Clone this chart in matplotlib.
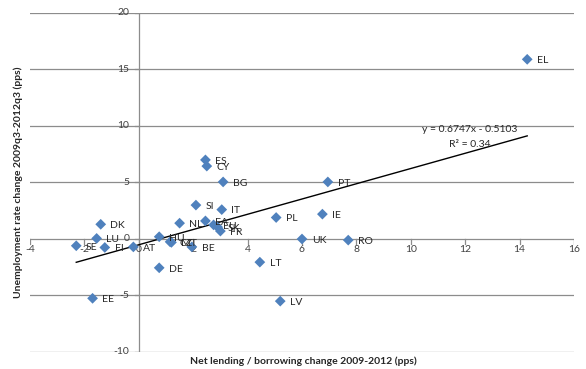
import matplotlib
matplotlib.use("Agg")
import matplotlib.pyplot as plt
import numpy as np

countries = ["EL", "ES", "CY", "BG", "PT", "SI", "IT", "NL", "EA", "EU", "SK", "FR",
             "PL", "IE", "UK", "RO", "LT", "LV", "DE", "BE", "CZ", "MT", "HU",
             "AT", "FI", "SE", "LU", "DK", "EE"]
net_lending = [14.28, 2.45, 2.5, 3.1, 6.95, 2.1, 3.05, 1.5, 2.45, 2.75, 2.9, 3.0,
               5.05, 6.75, 6.0, 7.7, 4.45, 5.2, 0.75, 1.95, 1.15, 1.2, 0.75,
               -0.2, -1.25, -2.3, -1.55, -1.4, -1.7]
unemployment = [15.9, 7.0, 6.45, 5.05, 5.05, 3.0, 2.6, 1.4, 1.6, 1.25, 1.05, 0.7,
                1.9, 2.2, 0.0, -0.1, -2.05, -5.5, -2.55, -0.7, -0.25, -0.3, 0.2,
                -0.7, -0.75, -0.6, 0.05, 1.3, -5.25]
slope, intercept = 0.6747, -0.5103
x_ticks = [-4, -2, 0, 2, 4, 6, 8, 10, 12, 14, 16]
y_ticks = [-10, -5, 0, 5, 10, 15, 20]

plt.rcParams['font.family'] = ['Lato', 'DejaVu Sans']

fig = plt.figure(figsize=(5.86, 3.69), dpi=100)
ax = fig.add_axes([0.0512, 0.0461, 0.9283, 0.9187])
ax.set_xlim(-4, 16)
ax.set_ylim(-10, 20)

for yv in y_ticks:
    ax.axhline(yv, color='#8c8c8c', lw=0.9, zorder=0)

for s in ['top', 'right', 'bottom', 'left']:
    ax.spines[s].set_visible(False)
ax.axvline(0, color='#8c8c8c', lw=0.9, zorder=0)

ax.set_xticks([])
ax.set_yticks([])
for xv in x_ticks:
    ax.plot([xv, xv], [0, -0.4], color='#8c8c8c', lw=0.9, zorder=0)
    ax.text(xv, -0.5, str(xv), ha='center', va='top', fontsize=7.5, color='#404040')
for yv in y_ticks:
    ax.plot([-0.15, 0], [yv, yv], color='#8c8c8c', lw=0.9, zorder=0)
    ax.text(-0.35, yv, str(yv), ha='right', va='center', fontsize=7.5, color='#404040')

ax.scatter(net_lending, unemployment, marker='D', s=30, color='#4F81BD', zorder=3,
           edgecolors='none')
for c, xv, yv in zip(countries, net_lending, unemployment):
    ax.annotate(c, (xv, yv), xytext=(7, -1), textcoords='offset points',
                ha='left', va='center', fontsize=7.5, color='#262626')

xs = np.array([min(net_lending), max(net_lending)])
ax.plot(xs, slope * xs + intercept, color='black', lw=1.0, zorder=2)

ax.text(12.17, 9.7, "y = 0.6747x - 0.5103", ha='center', va='center', fontsize=7.5,
        color='#262626')
ax.text(12.17, 8.4, "R² = 0.34", ha='center', va='center', fontsize=7.5,
        color='#262626')

fig.text(0.517, 0.022, "Net lending / borrowing change 2009-2012 (pps)", ha='center',
         va='center', fontsize=7.5, fontweight='bold', color='#262626')
fig.text(0.031, 0.505, "Unemployment rate change 2009q3-2012q3 (pps)", ha='center',
         va='center', rotation=90, fontsize=7.5, fontweight='bold', color='#262626')

fig.savefig("out.png", dpi=100)
